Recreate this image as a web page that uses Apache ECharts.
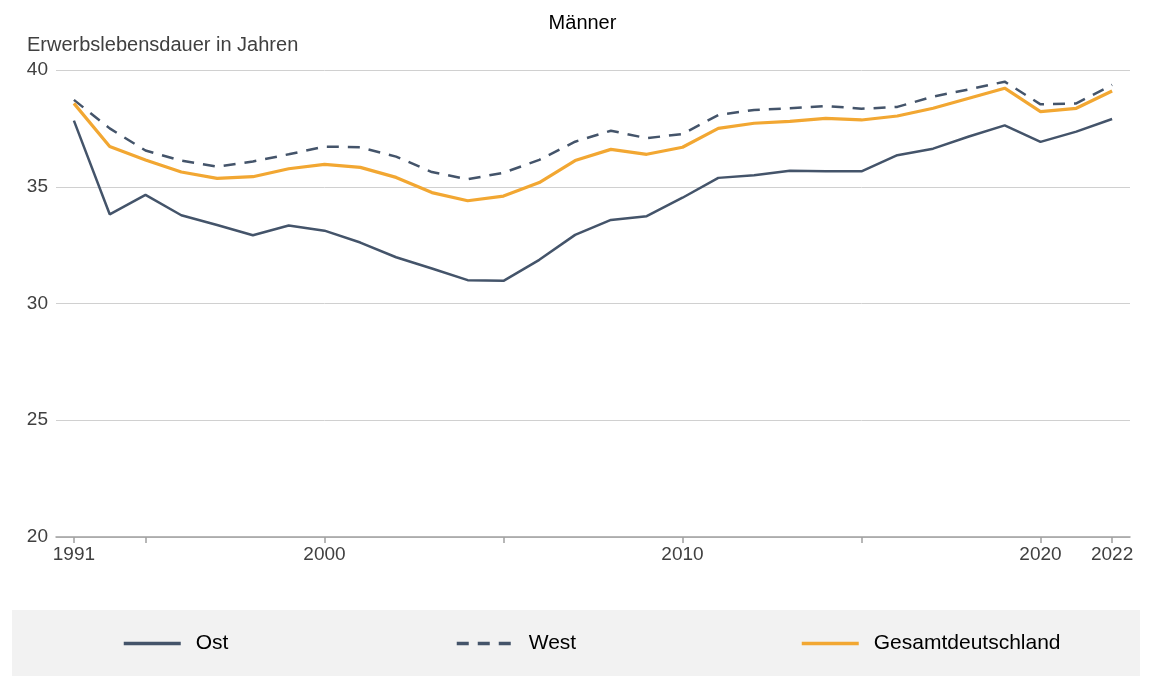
<!DOCTYPE html>
<html lang="de">
<head>
    <meta charset="UTF-8">
    <title>Männer</title>
    <style>
        html, body { margin: 0; padding: 0; background: #fff; }
        #main { width: 1165px; height: 677px; }
    </style>
</head>
<body>
<script src="https://cdn.jsdelivr.net/npm/echarts@6/dist/echarts.min.js"></script>

<div id="main"></div>

<script type="text/javascript">
    // Jahre (Kategorien)
    var years = ['1991', '1993', '1995', '1996', '1997', '1998', '1999', '2000', '2001', '2002',
        '2003', '2004', '2005', '2006', '2007', '2008', '2009', '2010', '2011', '2012',
        '2013', '2014', '2015', '2016', '2017', '2018', '2019', '2020', '2021', '2022'];

    // Erwerbslebensdauer Männer in Jahren
    var ost = [37.83, 33.82, 34.65, 33.78, 33.36, 32.92, 33.34, 33.12, 32.61, 31.98,
        31.5, 31.0, 30.97, 31.87, 32.94, 33.58, 33.74, 34.53, 35.38, 35.49,
        35.69, 35.66, 35.66, 36.35, 36.63, 37.15, 37.63, 36.92, 37.36, 37.9];
    var west = [38.72, 37.5, 36.55, 36.12, 35.86, 36.08, 36.39, 36.72, 36.69, 36.29,
        35.63, 35.32, 35.6, 36.15, 36.93, 37.4, 37.08, 37.26, 38.07, 38.29,
        38.36, 38.46, 38.34, 38.42, 38.86, 39.17, 39.5, 38.53, 38.57, 39.36];
    var gesamt = [38.57, 36.72, 36.15, 35.63, 35.36, 35.43, 35.77, 35.96, 35.83, 35.4,
        34.75, 34.4, 34.6, 35.18, 36.12, 36.6, 36.39, 36.69, 37.5, 37.72,
        37.8, 37.93, 37.86, 38.03, 38.36, 38.79, 39.22, 38.22, 38.36, 39.1];

    var labelYears = ['1991', '2000', '2010', '2020', '2022'];
    var tickYears = ['1991', '1995', '2000', '2005', '2010', '2015', '2020', '2022'];

    var dunkel = '#44546a';
    var orange = '#f2a732';
    var schrift = 'Liberation Sans, Arial, sans-serif';

    var myChart = echarts.init(document.getElementById('main'));

    myChart.setOption({
        animation: false,
        textStyle: { fontFamily: schrift },
        title: {
            text: 'Männer',
            left: 'center',
            top: 8,
            textStyle: { fontSize: 20, fontWeight: 'normal', color: '#000', fontFamily: schrift }
        },
        graphic: [{
            type: 'rect',
            z: -10,
            shape: { x: 12, y: 610, width: 1128, height: 66 },
            style: { fill: '#f2f2f2' }
        }],
        legend: [
            { data: ['Ost'], left: 122, top: 633 },
            { data: ['West'], left: 455, top: 633 },
            { data: ['Gesamtdeutschland'], left: 800, top: 633 }
        ].map(function (l) {
            l.padding = 0;
            l.itemWidth = 57;
            l.itemHeight = 14;
            l.itemGap = 10;
            l.itemStyle = { opacity: 0 };
            l.lineStyle = { width: 3.5 };
            l.textStyle = { fontSize: 21, color: '#000', fontFamily: schrift, padding: [0, 0, 0, 10] };
            return l;
        }),
        grid: { left: 56, right: 35, top: 70, bottom: 140 },
        xAxis: {
            type: 'category',
            data: years,
            boundaryGap: true,
            axisLine: { lineStyle: { color: '#a0a0a0', width: 1.5 } },
            axisTick: {
                show: true,
                alignWithLabel: true,
                length: 6,
                lineStyle: { color: '#a0a0a0', width: 1.5 },
                interval: function (i) { return tickYears.indexOf(years[i]) >= 0; }
            },
            axisLabel: {
                fontSize: 19,
                color: '#404040',
                margin: 8,
                interval: function (i, v) { return labelYears.indexOf(v) >= 0; }
            }
        },
        yAxis: {
            type: 'value',
            min: 20,
            max: 40,
            interval: 5,
            name: 'Erwerbslebensdauer in Jahren',
            nameLocation: 'end',
            nameGap: 15,
            nameTextStyle: { align: 'left', fontSize: 20, color: '#404040', padding: [0, 0, 0, -29] },
            axisLine: { show: false },
            axisTick: { show: false },
            axisLabel: { fontSize: 19, color: '#404040', margin: 8 },
            splitLine: { lineStyle: { color: '#d0d0d0', width: 1 } }
        },
        series: [
            {
                name: 'Ost',
                type: 'line',
                data: ost,
                symbol: 'none',
                lineStyle: { color: dunkel, width: 2.5 },
                itemStyle: { color: dunkel }
            },
            {
                name: 'West',
                type: 'line',
                data: west,
                symbol: 'none',
                lineStyle: { color: dunkel, width: 2.5, type: [12, 9] },
                itemStyle: { color: dunkel }
            },
            {
                name: 'Gesamtdeutschland',
                type: 'line',
                data: gesamt,
                symbol: 'none',
                lineStyle: { color: orange, width: 3.2 },
                itemStyle: { color: orange }
            }
        ]
    });
</script>
</body>
</html>
